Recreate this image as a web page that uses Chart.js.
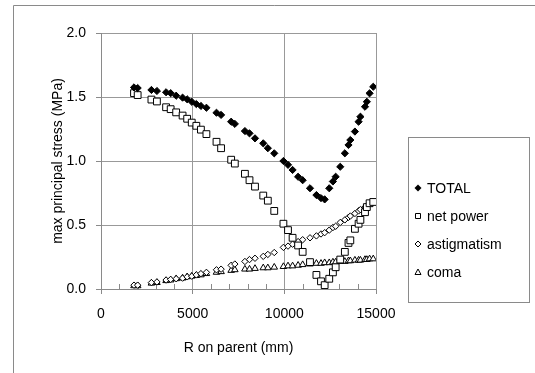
<!DOCTYPE html>
<html>
<head>
<meta charset="utf-8">
<script src="https://cdn.jsdelivr.net/npm/chart.js@4/dist/chart.umd.min.js"></script>
<style>
html,body{margin:0;padding:0;background:#fff;}
#wrap{position:relative;width:535px;height:373px;}
</style>
</head>
<body>
<div id="wrap"><canvas id="c" width="535" height="373"></canvas></div>
<script>
const R = [1800, 2000, 2750, 3050, 3550, 3800, 4100, 4450, 4700, 4950, 5200, 5450, 5750, 6300, 6550, 7100, 7300, 7850, 8100, 8400, 8850, 9100, 9450, 9950, 10200, 10450, 10750, 11000, 11400, 11750, 12000, 12200, 12450, 12650, 12800, 13050, 13300, 13500, 13600, 13850, 14050, 14150, 14400, 14500, 14650, 14850];
const total = [1.575, 1.57, 1.555, 1.547, 1.537, 1.53, 1.51, 1.495, 1.482, 1.463, 1.445, 1.43, 1.416, 1.377, 1.36, 1.307, 1.29, 1.234, 1.216, 1.177, 1.138, 1.10, 1.06, 1.00, 0.97, 0.93, 0.877, 0.85, 0.787, 0.734, 0.71, 0.70, 0.787, 0.84, 0.877, 0.955, 1.06, 1.125, 1.164, 1.23, 1.307, 1.346, 1.424, 1.463, 1.529, 1.58];
const netPower = [1.53, 1.515, 1.48, 1.465, 1.42, 1.405, 1.38, 1.355, 1.33, 1.30, 1.275, 1.245, 1.21, 1.15, 1.10, 1.01, 0.98, 0.90, 0.85, 0.80, 0.73, 0.69, 0.61, 0.51, 0.46, 0.40, 0.34, 0.29, 0.21, 0.11, 0.06, 0.03, 0.08, 0.13, 0.17, 0.23, 0.29, 0.36, 0.38, 0.47, 0.51, 0.54, 0.60, 0.64, 0.67, 0.68];
const astigmatism = [0.03, 0.03, 0.05, 0.055, 0.07, 0.075, 0.08, 0.085, 0.095, 0.10, 0.11, 0.12, 0.13, 0.15, 0.155, 0.185, 0.195, 0.215, 0.23, 0.24, 0.255, 0.27, 0.285, 0.325, 0.335, 0.35, 0.37, 0.385, 0.40, 0.415, 0.43, 0.44, 0.46, 0.48, 0.49, 0.52, 0.54, 0.56, 0.57, 0.59, 0.61, 0.62, 0.64, 0.65, 0.67, 0.68];
const coma = [0.025, 0.025, 0.045, 0.05, 0.065, 0.07, 0.08, 0.085, 0.095, 0.10, 0.105, 0.11, 0.12, 0.13, 0.135, 0.145, 0.15, 0.155, 0.155, 0.16, 0.165, 0.165, 0.17, 0.175, 0.18, 0.18, 0.185, 0.19, 0.195, 0.20, 0.20, 0.205, 0.205, 0.21, 0.21, 0.215, 0.215, 0.22, 0.22, 0.225, 0.225, 0.225, 0.23, 0.23, 0.235, 0.235];
const seriesNames = ['TOTAL', 'net power', 'astigmatism', 'coma'];
const xTicks = [0, 5000, 10000, 15000];
const yTicks = [0.0, 0.5, 1.0, 1.5, 2.0];

const FONT = "'Liberation Sans', Arial, sans-serif";
const pts = arr => R.map((x, i) => ({x: x, y: arr[i]}));

const styles = [
  {pointStyle: 'rectRot', radius: 3.6, bg: '#000', border: '#000'},
  {pointStyle: 'rect', radius: 4.8, bg: '#fff', border: '#000'},
  {pointStyle: 'rectRot', radius: 3.2, bg: '#fff', border: '#000'},
  {pointStyle: 'triangle', radius: 3.8, bg: '#fff', border: '#000'}
];
const values = [total, netPower, astigmatism, coma];

const datasets = values.map((v, i) => ({
  label: seriesNames[i],
  data: pts(v),
  showLine: false,
  pointStyle: styles[i].pointStyle,
  pointRadius: styles[i].radius,
  pointBackgroundColor: styles[i].bg,
  pointBorderColor: styles[i].border,
  pointBorderWidth: 1,
  order: i === 0 ? 0 : 1
}));

const framePlugin = {
  id: 'frame',
  beforeDraw(chart) {
    const ctx = chart.ctx;
    ctx.save();
    ctx.fillStyle = '#fff';
    ctx.fillRect(0, 0, chart.width, chart.height);
    ctx.strokeStyle = '#8a8a8a';
    ctx.lineWidth = 1;
    ctx.beginPath();
    ctx.moveTo(13.5, 380);
    ctx.lineTo(13.5, 5.5);
    ctx.lineTo(540, 5.5);
    ctx.stroke();
    ctx.restore();
  },
  beforeDatasetsDraw(chart) {
    const ctx = chart.ctx;
    const xs = chart.scales.x;
    const bottom = chart.chartArea.bottom;
    ctx.save();
    ctx.strokeStyle = '#8a8a8a';
    ctx.lineWidth = 1;
    ctx.beginPath();
    for (let v = 1000; v < 15000; v += 1000) {
      if (v % 5000 === 0) continue;
      const px = Math.round(xs.getPixelForValue(v)) + 0.5;
      ctx.moveTo(px, bottom);
      ctx.lineTo(px, bottom - 5);
    }
    ctx.stroke();
    ctx.restore();
  },
  afterDraw(chart) {
    const ctx = chart.ctx;
    ctx.save();
    const bx = 408.5, by = 137.5, bw = 121, bh = 165;
    ctx.strokeStyle = '#8a8a8a';
    ctx.lineWidth = 1;
    ctx.strokeRect(bx, by, bw, bh);
    ctx.font = '14px ' + FONT;
    ctx.fillStyle = '#000';
    ctx.textBaseline = 'middle';
    ctx.textAlign = 'left';
    const rows = [188, 216, 244, 272];
    chart.data.datasets.forEach((ds, i) => {
      const y = rows[i];
      const mx = 418;
      ctx.lineWidth = 1;
      ctx.strokeStyle = '#000';
      ctx.fillStyle = styles[i].bg;
      ctx.beginPath();
      if (i === 0) {
        ctx.moveTo(mx, y - 3.5); ctx.lineTo(mx + 3.5, y); ctx.lineTo(mx, y + 3.5); ctx.lineTo(mx - 3.5, y); ctx.closePath();
        ctx.fillStyle = '#000'; ctx.fill();
      } else if (i === 1) {
        ctx.rect(mx - 2.5, y - 2.5, 5, 5); ctx.fill(); ctx.stroke();
      } else if (i === 2) {
        ctx.moveTo(mx, y - 3); ctx.lineTo(mx + 3, y); ctx.lineTo(mx, y + 3); ctx.lineTo(mx - 3, y); ctx.closePath();
        ctx.fill(); ctx.stroke();
      } else {
        ctx.moveTo(mx, y - 3); ctx.lineTo(mx + 3, y + 2.5); ctx.lineTo(mx - 3, y + 2.5); ctx.closePath();
        ctx.fill(); ctx.stroke();
      }
      ctx.fillStyle = '#000';
      ctx.fillText(ds.label, 427, y + 1);
    });
    ctx.restore();
  }
};

new Chart(document.getElementById('c'), {
  type: 'scatter',
  data: {datasets: datasets},
  options: {
    responsive: false,
    animation: false,
    events: [],
    layout: {padding: {left: 13, right: 159, top: 33, bottom: 0}},
    plugins: {legend: {display: false}, tooltip: {enabled: false}},
    scales: {
      x: {
        type: 'linear', min: 0, max: 15000,
        afterBuildTicks: s => { s.ticks = xTicks.map(v => ({value: v})); },
        afterFit: s => { s.height = 84; },
        ticks: {color: '#000', font: {family: FONT, size: 14}, padding: 12, callback: v => String(v)},
        grid: {color: '#999', lineWidth: 1, tickLength: 5, tickColor: '#8a8a8a', drawTicks: true},
        border: {color: '#8a8a8a'},
        title: {display: true, text: 'R on parent (mm)', color: '#000', font: {family: FONT, size: 14}, padding: {top: 0, bottom: 16.6}}
      },
      y: {
        type: 'linear', min: 0, max: 2,
        afterBuildTicks: s => { s.ticks = yTicks.map(v => ({value: v})); },
        afterFit: s => { s.width = 88; },
        ticks: {color: '#000', font: {family: FONT, size: 14}, padding: 10, callback: v => Number(v).toFixed(1)},
        grid: {color: '#999', lineWidth: 1, tickLength: 5, tickColor: '#8a8a8a', drawTicks: true},
        border: {color: '#8a8a8a'},
        title: {display: true, text: 'max principal stress (MPa)', color: '#000', font: {family: FONT, size: 14}, padding: {top: 36.6, bottom: 0}}
      }
    }
  },
  plugins: [framePlugin]
});
</script>
</body>
</html>
